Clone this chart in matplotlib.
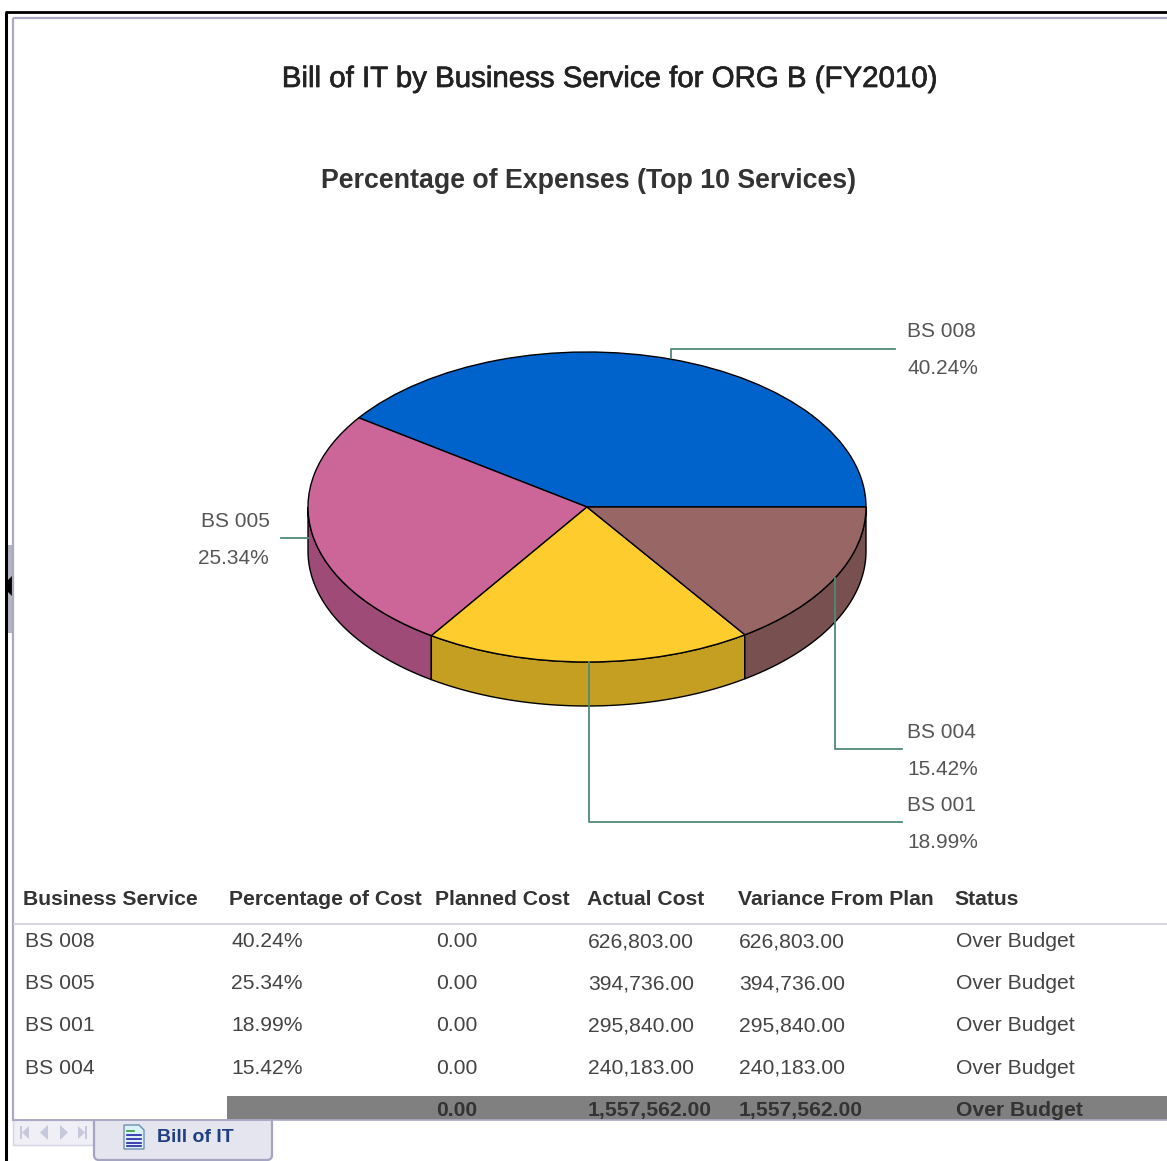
import numpy as np
import matplotlib
matplotlib.use('Agg')
import matplotlib.pyplot as plt
import matplotlib.patheffects as pe
from matplotlib.patches import Polygon, Rectangle, FancyBboxPatch

plt.rcParams['font.family'] = ['Liberation Sans', 'DejaVu Sans']

# Data from the report
services = ['BS 008', 'BS 005', 'BS 001', 'BS 004']
percents = [40.24, 25.34, 18.99, 15.42]
planned = ['0.00', '0.00', '0.00', '0.00']
actual = ['626,803.00', '394,736.00', '295,840.00', '240,183.00']
variance = ['626,803.00', '394,736.00', '295,840.00', '240,183.00']
status = ['Over Budget', 'Over Budget', 'Over Budget', 'Over Budget']
total_row = ['0.00', '1,557,562.00', '1,557,562.00', 'Over Budget']
headers = ['Business Service', 'Percentage of Cost', 'Planned Cost', 'Actual Cost',
           'Variance From Plan', 'Status']
top_colors = ['#0063CC', '#CC6699', '#FFCC2E', '#996666']
side_colors = ['#004C9E', '#9E4C77', '#C49F22', '#77504F']

W, H = 1167, 1161
fig = plt.figure(figsize=(W / 100, H / 100), dpi=100, facecolor='white')

# pie geometry in pixels
cx, cy, rx, ry, depth = 587, 507, 279, 155, 44
xspan, ytop, ybot = 1.2, 1.2, 1.6
pie_ax = fig.add_axes([(cx - xspan * rx) / W, 1 - (cy + ybot * ry) / H,
                       2 * xspan * rx / W, (ytop + ybot) * ry / H], zorder=1)
d = depth / ry

# side wall first, only the front half of the pie shows it
start = 0
for pct, col in zip(percents, side_colors):
    end = start + pct * 3.6
    a0, a1 = max(start, 180), min(end, 360)
    if a1 > a0:
        t = np.radians(np.linspace(a0, a1, 80))
        upper = np.c_[np.cos(t), np.sin(t)]
        lower = np.c_[np.cos(t[::-1]), np.sin(t[::-1]) - d]
        pie_ax.add_patch(Polygon(np.r_[upper, lower], closed=True, facecolor=col,
                                 edgecolor='black', linewidth=1.0))
    start = end

pie_ax.pie(percents, colors=top_colors, startangle=0, counterclock=True, radius=1,
           wedgeprops=dict(edgecolor='black', linewidth=1.0))
pie_ax.set_aspect('auto')
pie_ax.set_xlim(-xspan, xspan)
pie_ax.set_ylim(-ybot, ytop)
pie_ax.axis('off')

# pixel overlay for everything else
ax = fig.add_axes([0, 0, 1, 1], zorder=2)
ax.set_xlim(0, W)
ax.set_ylim(H, 0)
ax.axis('off')

# frame of the window
frame = '#A9A9C6'
ax.plot([6, 6], [H, 12], color='black', lw=2.2, solid_capstyle='butt')
ax.plot([5, W], [12, 12], color='black', lw=2.0, solid_capstyle='butt')
ax.plot([13, 13], [1120, 18], color=frame, lw=1.6, solid_capstyle='butt')
ax.plot([13, W], [18, 18], color=frame, lw=1.6, solid_capstyle='butt')
ax.add_patch(Rectangle((7, 545), 6, 88, facecolor='#B4B4BE', edgecolor='none'))
ax.add_patch(Polygon([[7, 581], [12, 576], [12, 596], [7, 591]], facecolor='black', edgecolor='none'))

# titles
ax.text(608.5, 87, 'Bill of IT by Business Service for ORG B (FY2010)', fontsize=21.2,
        color='#222222', ha='center', va='baseline',
        path_effects=[pe.withStroke(linewidth=0.5, foreground='#222222')])
ax.text(588.5, 188, 'Percentage of Expenses (Top 10 Services)', fontsize=19.3, fontweight='bold',
        color='#333333', ha='center', va='baseline')

# leader lines and labels
lead = '#4F8A78'
ax.plot([671, 671, 895], [358, 349, 349], color=lead, lw=1.3)
ax.plot([281, 309], [538, 538], color=lead, lw=1.3)
ax.plot([835, 835, 902], [578, 749, 749], color=lead, lw=1.3)
ax.plot([589, 589, 902], [662, 822, 822], color=lead, lw=1.3)

label_pos = [(907, 337, 374), (201, 527, 564), (907, 811, 848), (907, 738, 775)]
for name, pct, (x, y0, y1) in zip(services, percents, label_pos):
    ax.text(x, y0, name, fontsize=15, color='#555555', va='baseline')
    ax.text(x - 3 if x < 300 else x, y1, f'{pct:.2f}%', fontsize=15, color='#555555', va='baseline')

# table
head_x = [23, 229, 435, 587, 738, 954]
body_x = [25, 231, 436, 588, 739, 956]
row_y = [947, 989, 1031, 1074]
for x, txt in zip(head_x, headers):
    ax.text(x, 905, txt, fontsize=15.2, fontweight='bold', color='#333333', va='baseline')
ax.plot([14, W], [924, 924], color='#D2D2DE', lw=1.3)
for i, y in enumerate(row_y):
    cells = [services[i], f'{percents[i]:.2f}%', planned[i], actual[i], variance[i], status[i]]
    for x, txt in zip(body_x, cells):
        ax.text(x, y, txt, fontsize=15.2, color='#444444', va='baseline')

# total row
ax.add_patch(Rectangle((227, 1096), W - 227, 24, facecolor='#808080', edgecolor='none'))
for x, txt in zip(body_x[2:], total_row):
    ax.text(x, 1116, txt, fontsize=15.2, fontweight='bold', color='#333333', va='baseline')
ax.plot([13, W], [1120, 1120], color=frame, lw=1.2)

# sheet tab bar at the bottom
ax.add_patch(Rectangle((13, 1120), 82, 25, facecolor='#EFEFF5', edgecolor='#D5D5E2', lw=1))
arrow = '#C8C8DC'
ax.add_patch(Rectangle((20, 1126), 2, 13, facecolor=arrow, edgecolor='none'))
ax.add_patch(Polygon([[29, 1126], [29, 1139], [22, 1132.5]], facecolor=arrow, edgecolor='none'))
ax.add_patch(Polygon([[48, 1125], [48, 1140], [40, 1132.5]], facecolor=arrow, edgecolor='none'))
ax.add_patch(Polygon([[60, 1125], [60, 1140], [68, 1132.5]], facecolor=arrow, edgecolor='none'))
ax.add_patch(Polygon([[78, 1126], [78, 1139], [85, 1132.5]], facecolor=arrow, edgecolor='none'))
ax.add_patch(Rectangle((85, 1126), 2, 13, facecolor=arrow, edgecolor='none'))

ax.add_patch(FancyBboxPatch((96, 1110), 174, 48, boxstyle='round,pad=2,rounding_size=5',
                            facecolor='#E4E5EF', edgecolor='#A5A5C2', lw=1.6, clip_on=True))
# cover the top of the tab so it hangs from the sheet edge
ax.add_patch(Rectangle((227, 1096), 50, 24, facecolor='#808080', edgecolor='none'))
ax.add_patch(Rectangle((90, 1095), 137, 25, facecolor='white', edgecolor='none'))
ax.plot([13, 272], [1120, 1120], color=frame, lw=1.2)
ax.add_patch(Polygon([[124, 1125], [139, 1125], [144, 1130], [144, 1149], [124, 1149]],
                     facecolor='#DCF2FA', edgecolor='#6F8FB0', lw=1))
ax.plot([127, 134], [1131, 1131], color='#2CA02C', lw=1.2)
for y in [1135, 1139, 1143, 1146]:
    ax.plot([127, 141], [y, y], color='#2222AA', lw=1.2)
ax.text(157, 1142, 'Bill of IT', fontsize=14, fontweight='bold', color='#1F3F80', va='baseline')

fig.savefig('out.png', dpi=100)
